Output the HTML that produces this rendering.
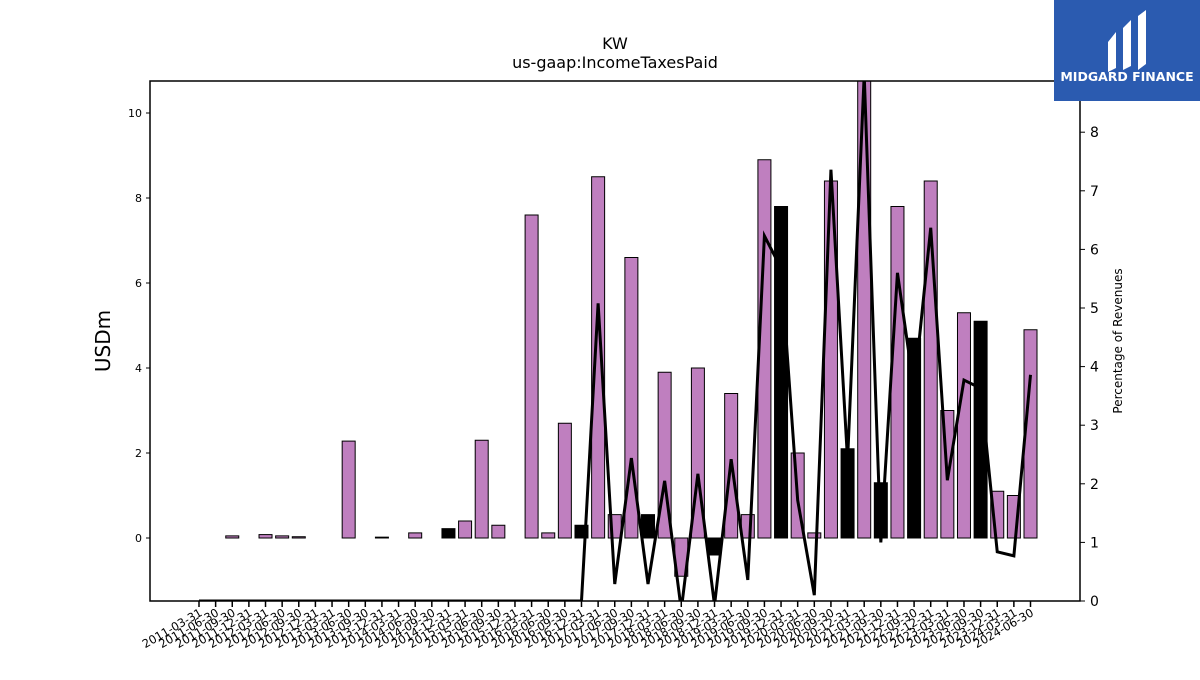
<!DOCTYPE html>
<html><head><meta charset="utf-8"><style>
body{margin:0;background:#fff;}
svg text{font-family:"DejaVu Sans","Liberation Sans",sans-serif;}
</style></head><body>
<svg id="chart" width="1200" height="675" xmlns="http://www.w3.org/2000/svg">
<rect width="1200" height="675" fill="#fff"/>
<text x="615" y="49" text-anchor="middle" font-size="16">KW</text>
<text x="615" y="68" text-anchor="middle" font-size="16">us-gaap:IncomeTaxesPaid</text>
<text transform="translate(110,341) rotate(-90)" text-anchor="middle" font-size="20">USDm</text>
<text transform="translate(1122,341) rotate(-90)" text-anchor="middle" font-size="12">Percentage of Revenues</text>
<g id="bars"></g>
<g id="line"></g>
<g id="axes"></g>
<g>
<rect x="1054" y="0" width="146" height="101" fill="#2b5bb0"/>
<path d="M1108 42 L1116 32 L1116 68 L1108 72 Z M1123 28 L1131 20 L1131 66 L1123 70 Z M1138 16 L1146 10 L1146 64 L1138 70 Z" fill="#fff"/>
<text x="1127" y="81" text-anchor="middle" font-size="12.5" font-weight="bold" fill="#fff">MIDGARD FINANCE</text>
</g>
</svg>
<script>
const labels=["2011-03-31","2011-06-30","2011-09-30","2011-12-31","2012-03-31","2012-06-30","2012-09-30","2012-12-31","2013-03-31","2013-06-30","2013-09-30","2013-12-31","2014-03-31","2014-06-30","2014-09-30","2014-12-31","2015-03-31","2015-06-30","2015-09-30","2015-12-31","2016-03-31","2016-06-30","2016-09-30","2016-12-31","2017-03-31","2017-06-30","2017-09-30","2017-12-31","2018-03-31","2018-06-30","2018-09-30","2018-12-31","2019-03-31","2019-06-30","2019-09-30","2019-12-31","2020-03-31","2020-06-30","2020-09-30","2020-12-31","2021-03-31","2021-09-30","2021-12-31","2022-09-30","2022-12-31","2023-03-31","2023-06-30","2023-09-30","2023-12-31","2024-03-31","2024-06-30","2024-09-30"].slice(0,51);
const taxes=[0,0,0.05,0,0.08,0.05,0.03,0,0,2.28,0,0.02,0,0.12,0,0.22,0.4,2.3,0.3,0,7.6,0.12,2.7,0.3,8.5,0.55,6.6,0.55,3.9,-0.9,4.0,-0.4,3.4,0.55,8.9,7.8,2.0,0.12,8.4,2.1,10.9,1.3,7.8,4.7,8.4,3.0,5.3,5.1,1.1,1.0,4.9];
const blackIdx=[15,23,27,31,35,39,41,43,47];
const pct=[0,0,0,0,0,0,0,0,0,0,0,0,0,0,0,0,0,0,0,0,0,0,0,0,5.08,0.29,2.44,0.29,2.05,-0.15,2.17,-0.07,2.42,0.36,6.23,5.68,1.72,0.1,7.36,2.4,8.98,1.0,5.6,3.6,6.37,2.06,3.77,3.63,0.84,0.77,3.86];
const leftTicks=[0,2,4,6,8,10];
const rightTicks=[0,1,2,3,4,5,6,7,8];
const NS="http://www.w3.org/2000/svg";
const X0=150,X1=1080,Y0=81,Y1=601;
const xs=i=>199+i*16.63;
const yl=v=>538-v*42.5;
const yr=v=>601-v*58.6;
function mk(t,a,p){const e=document.createElementNS(NS,t);for(const k in a)e.setAttribute(k,a[k]);p.appendChild(e);return e;}
const gb=document.getElementById('bars');
taxes.forEach((v,i)=>{
 const y=Math.max(Y0,Math.min(yl(0),yl(v)));const h=Math.abs(Math.min(yl(v),Y1)-yl(0));
 const r=mk('rect',{x:xs(i)-6.5,y:Math.max(Y0,Math.min(yl(0),yl(v))),width:13,height:Math.min(h,yl(0)-Y0+ (v<0?1000:0)),fill:blackIdx.includes(i)?'#000':'#bf7fbf',stroke:'#000','stroke-width':1},gb);
 
 
});
const gl=document.getElementById('line');
mk('clipPath',{id:'cp'},gl);
mk('rect',{x:X0,y:Y0,width:X1-X0,height:Y1-Y0},gl.lastChild);
const pl=mk('polyline',{points:pct.map((v,i)=>xs(i)+','+yr(v)).join(' '),fill:'none',stroke:'#000','stroke-width':3,'clip-path':'url(#cp)'},gl);


const ga=document.getElementById('axes');
mk('rect',{x:X0,y:Y0,width:X1-X0,height:Y1-Y0,fill:'none',stroke:'#000','stroke-width':1.5},ga);
leftTicks.forEach(v=>{mk('line',{x1:X0-4,x2:X0,y1:yl(v),y2:yl(v),stroke:'#000'},ga);
 const t=mk('text',{x:X0-8,y:yl(v)+4,'text-anchor':'end','font-size':11},ga);t.textContent=v;
 });
rightTicks.forEach(v=>{mk('line',{x1:X1,x2:X1+5,y1:yr(v),y2:yr(v),stroke:'#000'},ga);
 const t=mk('text',{x:X1+10,y:yr(v)+5,'font-size':14},ga);t.textContent=v;
 });
labels.forEach((l,i)=>{mk('line',{x1:xs(i),x2:xs(i),y1:Y1,y2:Y1+6,stroke:'#000','stroke-width':1.5},ga);
 const t=mk('text',{transform:`translate(${xs(i)+4},${Y1+14}) rotate(-30)`,'text-anchor':'end','font-size':11.5},ga);t.textContent=l;
 });
</script>
</body></html>
